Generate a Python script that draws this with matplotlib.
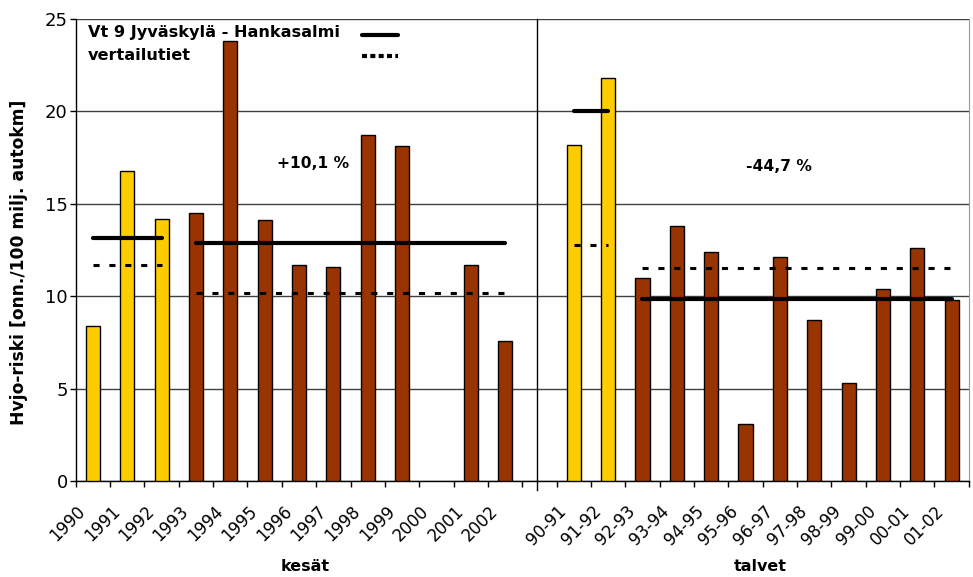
import matplotlib
matplotlib.use("Agg")
import matplotlib.pyplot as plt
import matplotlib.transforms as mtransforms
import numpy as np

plt.rcParams['font.family'] = ['DejaVu Sans']

# Summer risk values (kesät) and winter risk values (talvet); 2000 has no value
summer_labels = ['1990', '1991', '1992', '1993', '1994', '1995', '1996',
                 '1997', '1998', '1999', '2000', '2001', '2002']
summer_values = [8.4, 16.8, 14.2, 14.5, 23.8, 14.1, 11.7,
                 11.6, 18.7, 18.1, np.nan, 11.7, 7.6]
winter_labels = ['90-91', '91-92', '92-93', '93-94', '94-95', '95-96',
                 '96-97', '97-98', '98-99', '99-00', '00-01', '01-02']
winter_values = [18.2, 21.8, 11.0, 13.8, 12.4, 3.1,
                 12.1, 8.7, 5.3, 10.4, 12.6, 9.8]

# Number of leading "before" periods in each season (drawn yellow)
summer_before = 3
winter_before = 2

# Period averages: Vt 9 (solid) and comparison roads (dashed)
summer_vt9_before, summer_vt9_after = 13.15, 12.9
summer_ref_before, summer_ref_after = 11.7, 10.15
winter_vt9_before, winter_vt9_after = 20.0, 9.85
winter_ref_before, winter_ref_after = 12.75, 11.55

summer_change = '+10,1 %'
winter_change = '-44,7 %'

yellow = '#FFCC00'
brown = '#993300'

fig = plt.figure(figsize=(9.73, 5.77), dpi=100)
ax = fig.add_axes([0.0778, 0.1664, 0.9179, 0.8007])

# category positions: summers, one empty slot, winters
n_s = len(summer_labels)
n_w = len(winter_labels)
xs = np.arange(n_s)
xw = np.arange(n_w) + n_s + 1
n_total = n_s + 1 + n_w

colors_s = [yellow if i < summer_before else brown for i in range(n_s)]
colors_w = [yellow if i < winter_before else brown for i in range(n_w)]

ax.bar(xs, summer_values, width=0.41, color=colors_s, edgecolor='black',
       linewidth=1, zorder=3)
ax.bar(xw, winter_values, width=0.41, color=colors_w, edgecolor='black',
       linewidth=1, zorder=3)

solid_kw = dict(color='black', lw=3.0, solid_capstyle='round', zorder=4)
dash_kw = dict(color='black', lw=2.2, linestyle=(0, (2.0, 3.2)), zorder=4)

# summer averages
ax.plot([xs[0], xs[summer_before - 1]], [summer_vt9_before] * 2, **solid_kw)
ax.plot([xs[0], xs[summer_before - 1]], [summer_ref_before] * 2, **dash_kw)
ax.plot([xs[summer_before], xs[-1]], [summer_vt9_after] * 2, **solid_kw)
ax.plot([xs[summer_before], xs[-1]], [summer_ref_after] * 2, **dash_kw)
# winter averages
ax.plot([xw[0], xw[winter_before - 1]], [winter_vt9_before] * 2, **solid_kw)
ax.plot([xw[0], xw[winter_before - 1]], [winter_ref_before] * 2, **dash_kw)
ax.plot([xw[winter_before], xw[-1]], [winter_vt9_after] * 2, **solid_kw)
ax.plot([xw[winter_before], xw[-1]], [winter_ref_after] * 2, **dash_kw)

ax.set_xlim(-0.5, n_total - 0.5)
ax.set_ylim(0, 25)
ax.set_yticks([0, 5, 10, 15, 20, 25])
ax.yaxis.grid(True, color='#404040', lw=1, zorder=0)
ax.set_axisbelow(True)

# season separator
ax.plot([n_s - 0.07, n_s - 0.07], [-0.5, 25], color='black', lw=1,
        clip_on=False, zorder=2)

# category labels at centres, boundary tick marks as minor ticks
ax.set_xticks(list(xs) + list(xw))
ax.set_xticklabels(summer_labels + winter_labels, rotation=45,
                   ha='right', va='center', rotation_mode='anchor',
                   fontsize=12)
ax.tick_params(axis='x', which='major', length=0, pad=20)
ax.set_xticks(np.arange(-0.5, n_total + 0.5, 1), minor=True)
ax.tick_params(axis='x', which='minor', length=4.3, width=1, direction='out')
ax.tick_params(axis='y', length=4.3, width=1, direction='out', labelsize=13,
               pad=1.5)
offset = mtransforms.ScaledTranslation(-10 / 100, 0, fig.dpi_scale_trans)
for lbl in ax.get_xticklabels():
    lbl.set_transform(lbl.get_transform() + offset)

ax.spines['top'].set_visible(False)
ax.spines['right'].set_color('#999999')
ax.spines['left'].set_linewidth(1)
ax.spines['bottom'].set_linewidth(1)

ax.set_ylabel('Hvjo-riski [onn./100 milj. autokm]', fontsize=12.3,
              fontweight='bold')
ax.yaxis.set_label_coords(-0.053, 0.474)

# season captions below the category labels
ax.text(6.18, -0.185, 'kesät', transform=ax.get_xaxis_transform(),
        ha='center', va='center', fontsize=11.5, fontweight='bold')
ax.text(19.42, -0.185, 'talvet', transform=ax.get_xaxis_transform(),
        ha='center', va='center', fontsize=11.5, fontweight='bold')

# change annotations
ax.text(6.41, 17.2, summer_change, ha='center', va='center',
        fontsize=11.2, fontweight='bold')
ax.text(19.97, 17.0, winter_change, ha='center', va='center',
        fontsize=11.2, fontweight='bold')

# key
ax.text(0.0135, 0.9697, 'Vt 9 Jyväskylä - Hankasalmi', transform=ax.transAxes,
        ha='left', va='center', fontsize=11.6, fontweight='bold', zorder=6)
ax.text(0.0135, 0.922, 'vertailutiet', transform=ax.transAxes,
        ha='left', va='center', fontsize=11.6, fontweight='bold', zorder=6)
ax.plot([0.3207, 0.3610], [0.966, 0.966], transform=ax.transAxes,
        color='black', lw=3.0, solid_capstyle='round', zorder=6)
ax.plot([0.3207, 0.3610], [0.920, 0.920], transform=ax.transAxes,
        color='black', lw=3.0, linestyle=(0, (1.2, 0.8)), zorder=6)

fig.savefig('out.png', dpi=100)
